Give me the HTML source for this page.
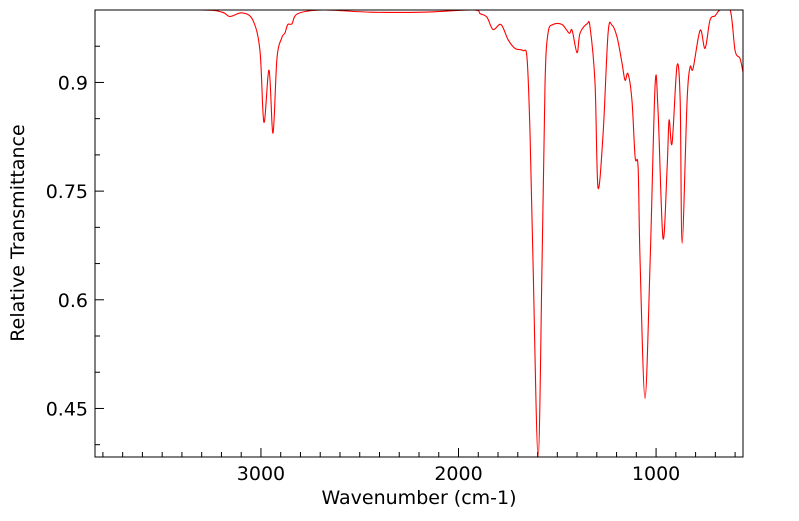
<!DOCTYPE html>
<html><head><meta charset="utf-8"><style>
body{margin:0;background:#fff;}
svg text{font-family:"DejaVu Sans","Liberation Sans",sans-serif;font-size:19px;fill:#000;}
</style></head><body>
<svg id="chart" width="799" height="516" xmlns="http://www.w3.org/2000/svg">
<defs><clipPath id="clip"><rect x="95" y="10" width="648" height="447"/></clipPath></defs>
<g id="axes"></g>
<path id="trace" clip-path="url(#clip)" fill="none" stroke="#ff0000" stroke-width="1.1"/>
<rect x="95" y="10" width="648" height="447" fill="none" stroke="#000" stroke-width="1"/>
<text x="419" y="504" text-anchor="middle">Wavenumber (cm-1)</text>
<text transform="translate(24,233) rotate(-90)" text-anchor="middle">Relative Transmittance</text>
</svg>
<script>
const wavenumbers=[3840,3309,3197,3157,3096,3041,3005,2985,2959,2939,2919,2894,2879,2864,2843,2813,2686,2448,2180,1927,1891,1856,1825,1785,1749,1714,1673,1653,1638,1623,1597,1577,1562,1547,1521,1476,1440,1425,1400,1385,1349,1334,1309,1294,1268,1243,1223,1197,1172,1157,1142,1122,1106,1091,1081,1056,1030,1005,990,965,944,934,919,894,878,868,843,828,813,777,752,727,701,676,625,600,575,560];
const transmittance=[1.0,1.0,0.997,0.991,0.996,0.986,0.944,0.845,0.917,0.830,0.933,0.962,0.968,0.980,0.981,0.995,1.0,0.997,0.997,1.0,0.995,0.990,0.973,0.980,0.959,0.947,0.944,0.933,0.830,0.654,0.382,0.654,0.899,0.968,0.980,0.980,0.968,0.972,0.941,0.968,0.981,0.976,0.899,0.755,0.830,0.968,0.979,0.962,0.926,0.903,0.912,0.875,0.797,0.783,0.654,0.464,0.654,0.896,0.861,0.685,0.783,0.848,0.816,0.923,0.875,0.678,0.875,0.921,0.919,0.972,0.947,0.986,0.992,1.0,1.0,0.944,0.933,0.914];
const xTickLabels=[3000,2000,1000];
const yTickLabels=[0.9,0.75,0.6,0.45];
const X0=95,X1=743,Y0=10,Y1=457,WMAX=3840,WMIN=560,TMAX=1.0,TMIN=0.383;
function xs(w){return X0+(WMAX-w)/(WMAX-WMIN)*(X1-X0);}
function ys(t){return Y0+(TMAX-t)/(TMAX-TMIN)*(Y1-Y0);}
const NS="http://www.w3.org/2000/svg";
const ax=document.getElementById('axes');
function ln(x1,y1,x2,y2,name){const l=document.createElementNS(NS,'line');
l.setAttribute('x1',x1);l.setAttribute('y1',y1);l.setAttribute('x2',x2);l.setAttribute('y2',y2);
l.setAttribute('stroke','#000');l.setAttribute('stroke-width','1');


ax.appendChild(l);}
for(let w=3800;w>=600;w-=100){const x=xs(w);const major=w%1000===0;ln(x,Y1,x,Y1-(major?9:5),'x-tick');}
for(let k=0;k<=12;k++){const t=0.40+k*0.05;if(t>TMAX+1e-9)break;const y=ys(t);const major=yTickLabels.some(v=>Math.abs(v-t)<1e-6);ln(X0,y,X0+(major?9:5),y,'y-tick');}
xTickLabels.forEach(v=>{const t=document.createElementNS(NS,'text');t.setAttribute('x',xs(v));t.setAttribute('y',Y1+23);t.setAttribute('text-anchor','middle');t.textContent=v;


ax.appendChild(t);});
yTickLabels.forEach(v=>{const t=document.createElementNS(NS,'text');t.setAttribute('x',X0-7);t.setAttribute('y',ys(v)+7);t.setAttribute('text-anchor','end');t.textContent=String(v);


ax.appendChild(t);});
const P=wavenumbers.map((w,i)=>[xs(w),ys(transmittance[i])]);
let d='M'+P[0][0].toFixed(2)+','+P[0][1].toFixed(2);
for(let i=0;i<P.length-1;i++){const p0=P[Math.max(0,i-1)],p1=P[i],p2=P[i+1],p3=P[Math.min(P.length-1,i+2)];
const c1=[p1[0]+(p2[0]-p0[0])/6,p1[1]+(p2[1]-p0[1])/6],c2=[p2[0]-(p3[0]-p1[0])/6,p2[1]-(p3[1]-p1[1])/6];
d+=' C'+c1[0].toFixed(2)+','+c1[1].toFixed(2)+' '+c2[0].toFixed(2)+','+c2[1].toFixed(2)+' '+p2[0].toFixed(2)+','+p2[1].toFixed(2);}
document.getElementById('trace').setAttribute('d',d);
</script>
</body></html>
